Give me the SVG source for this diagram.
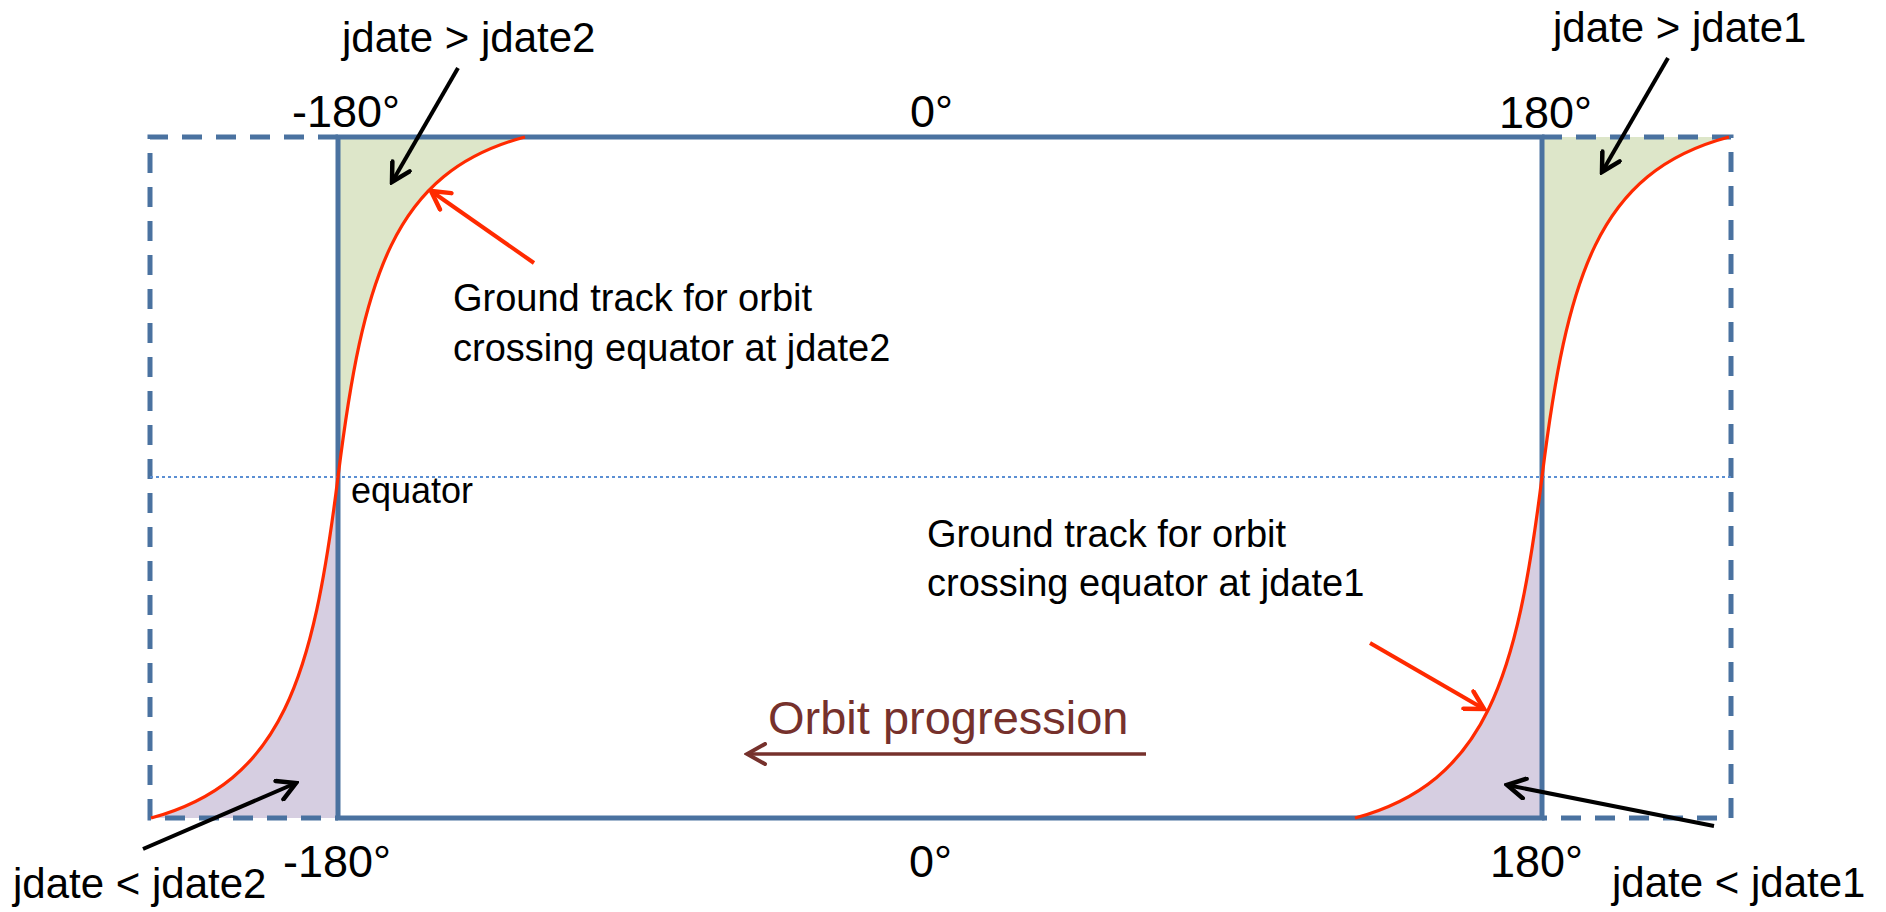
<svg xmlns="http://www.w3.org/2000/svg" width="1886" height="912" viewBox="0 0 1886 912">
<defs>
<style>
.t{font-family:"Liberation Sans",Arial,sans-serif;fill:#000}
.deg{font-size:45px}
.jd{font-size:42px}
.gt{font-size:38px}
.dash{fill:none;stroke:#4A72A0;stroke-width:5;stroke-dasharray:20 14}
.solid{fill:none;stroke:#4A72A0;stroke-width:5}
.track{fill:none;stroke:#FF2A00;stroke-width:3.2}
.green{fill:#DDE6C9}
.purple{fill:#D6CEE1}
.ab{stroke:#000;stroke-width:4;fill:none}
.ar{stroke:#FF2A00;stroke-width:4;fill:none}
</style>
<marker id="hb" viewBox="0 0 24 24" refX="21" refY="12" markerWidth="24" markerHeight="24" markerUnits="userSpaceOnUse" orient="auto"><path d="M3,2 L21,12 L3,22" fill="none" stroke="#000" stroke-width="4.5" stroke-linecap="round"/></marker>
<marker id="hr" viewBox="0 0 24 24" refX="21" refY="12" markerWidth="24" markerHeight="24" markerUnits="userSpaceOnUse" orient="auto"><path d="M3,2 L21,12 L3,22" fill="none" stroke="#FF2A00" stroke-width="4.5" stroke-linecap="round"/></marker>
<marker id="hbr" viewBox="0 0 24 24" refX="21" refY="12" markerWidth="24" markerHeight="24" markerUnits="userSpaceOnUse" orient="auto"><path d="M3,2 L21,12 L3,22" fill="none" stroke="#76312C" stroke-width="4" stroke-linecap="round"/></marker>
</defs>
<rect width="1886" height="912" fill="#fff"/>
<g id="regions">
<path class="green" d="M338,137 L525,137 C393,172 363,277 338,477 Z"/>
<path class="purple" d="M151,818 C283,782 313,677 338,477 L338,818 Z"/>
<path class="green" d="M1542,137 L1729,137 C1597,172 1567,277 1542,477 Z"/>
<path class="purple" d="M1355,818 C1487,782 1517,677 1542,477 L1542,818 Z"/>
</g>
<g id="frame">
<path class="dash" d="M338,137 H150 V818 H338"/>
<path class="dash" d="M1542,137 H1731 V818 H1542"/>
<rect class="solid" x="338" y="137" width="1204" height="681"/>
<line x1="150" y1="477" x2="1732" y2="477" stroke="#5B8FD3" stroke-width="2" stroke-dasharray="3 3"/>
</g>
<g id="tracks">
<path class="track" d="M151,818 C283,782 313,677 338,477 C363,277 393,172 525,137"/>
<path class="track" d="M1355,818 C1487,782 1517,677 1542,477 C1567,277 1597,172 1729,137"/>
</g>
<g id="connectors">
<line class="ab" x1="458" y1="68" x2="392" y2="182" marker-end="url(#hb)"/>
<line class="ab" x1="1668" y1="58" x2="1602" y2="172" marker-end="url(#hb)"/>
<line class="ab" x1="143" y1="849" x2="296" y2="783" marker-end="url(#hb)"/>
<line class="ab" x1="1714" y1="826" x2="1507" y2="785" marker-end="url(#hb)"/>
<line class="ar" x1="534" y1="263" x2="431" y2="191" marker-end="url(#hr)"/>
<line class="ar" x1="1370" y1="643" x2="1484" y2="709" marker-end="url(#hr)"/>
<line x1="1146" y1="754" x2="747" y2="754" stroke="#76312C" stroke-width="3.5" marker-end="url(#hbr)"/>
</g>
<g id="labels">
<text class="t deg" x="292" y="127">-180°</text>
<text class="t deg" x="910" y="127">0°</text>
<text class="t deg" x="1499" y="128">180°</text>
<text class="t deg" x="283" y="877">-180°</text>
<text class="t deg" x="909" y="877">0°</text>
<text class="t deg" x="1490" y="877">180°</text>
<text class="t jd" x="342" y="52">jdate &gt; jdate2</text>
<text class="t jd" x="1553" y="42">jdate &gt; jdate1</text>
<text class="t jd" x="13" y="898">jdate &lt; jdate2</text>
<text class="t jd" x="1612" y="897">jdate &lt; jdate1</text>
<text class="t" x="351" y="503" font-size="36">equator</text>
<text class="t gt" x="453" y="311">Ground track for orbit</text>
<text class="t gt" x="453" y="361">crossing equator at jdate2</text>
<text class="t gt" x="927" y="547">Ground track for orbit</text>
<text class="t gt" x="927" y="596">crossing equator at jdate1</text>
<text x="768" y="734" font-family="Liberation Sans,Arial,sans-serif" font-size="47" fill="#76312C">Orbit progression</text>
</g>
</svg>
